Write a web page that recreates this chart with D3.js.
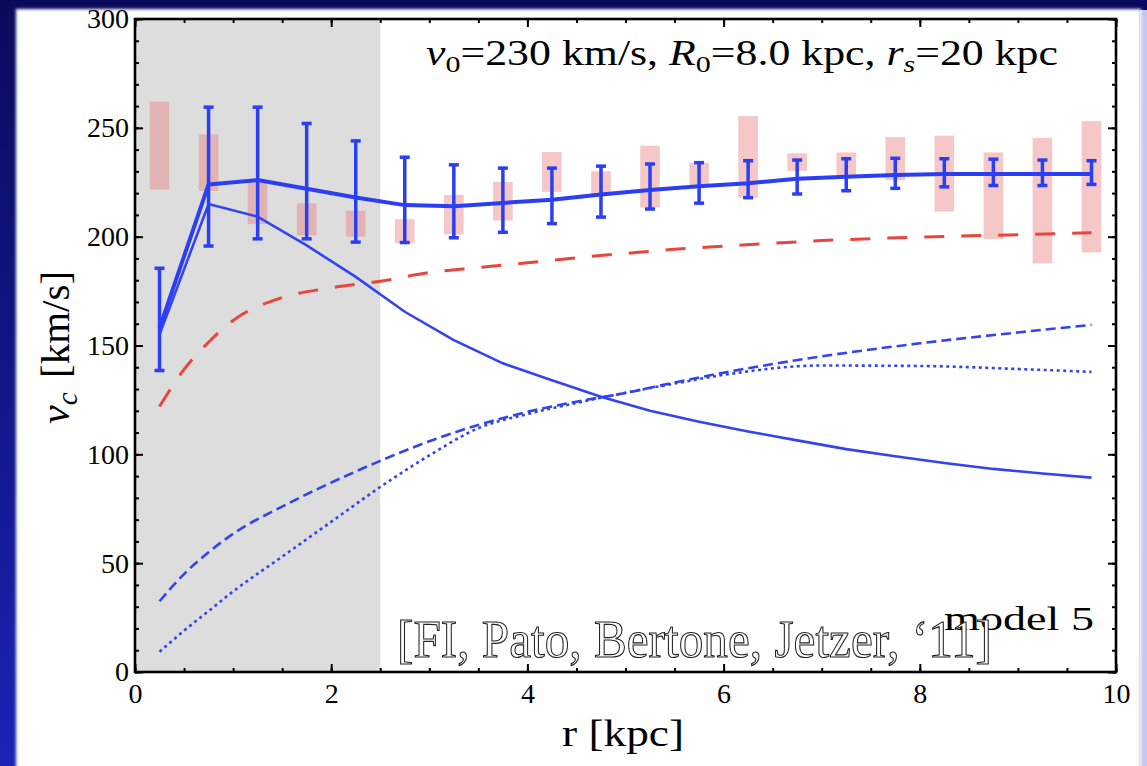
<!DOCTYPE html>
<html><head><meta charset="utf-8">
<script src="https://cdn.jsdelivr.net/npm/d3@7"></script>
<style>body{margin:0;background:#fff}svg{display:block}</style>
</head><body>
<script>
// ---- data ----
const radii   = [0.25,0.75,1.25,1.75,2.25,2.75,3.25,3.75,4.25,4.75,5.25,5.75,6.25,6.75,7.25,7.75,8.25,8.75,9.25,9.75];
const total   = [158,224,226,222,218,214.5,214,215.5,217,219.4,221.4,223.2,224.5,226.6,227.5,228.3,228.8,228.8,228.8,228.8];
const errLow  = [138.5,195.7,199,199,197.5,197.3,199.5,202,206,209,212.7,215.4,217.9,219.6,221.1,222.2,222.9,223.5,223.5,224];
const errHigh = [185.5,259.5,259.5,252,244,236.5,233,231.5,231.5,232.4,233.4,234,234.9,235.2,235.8,236,235.8,235.6,235.2,234.9];
const obsLow  = [221.7,221,205.8,200.6,200,196.9,201,207.4,220.6,218.6,213.4,223.8,217.9,230.2,227,226,211.5,198.9,187.7,192.8];
const obsHigh = [262,247,225.2,215.3,211.9,208,219.2,225.2,238.9,230,241.8,234,255.4,238.3,238.7,245.8,246.4,238.7,245.4,253.1];
const bulge   = [155,215,209.2,196,181.5,165.5,152.5,141.8,134,126.5,120,115,110.5,106.4,102.4,99.1,96,93.3,91.2,89.3];

const rCurve  = [0.25,0.5,0.75,1,1.5,2,2.5,3,3.5,4,4.5,5,5.5,6,7,8,9,9.75];
const halo    = [32.5,45,55,63.5,76,87,97,106,113.5,119.5,124.2,128.2,133,137.5,145,151,156,159.5];
const disk    = [9.3,19,28,37,53,69,85,99.5,112,118.5,123.6,128.3,132.5,136.5,140.8,140.6,139.2,137.9];
const redCurve= [122,139,151.5,161.5,172,176.5,179.5,183.5,185.8,188,190.3,192.3,194.2,195.6,198.2,199.8,200.9,201.8];

const xMajor = [0,2,4,6,8,10];
const yMajor = [0,50,100,150,200,250,300];
const shadeMax = 2.5;

// ---- canvas ----
const W = 1147, H = 766;
const svg = d3.select("body").append("svg").attr("width", W).attr("height", H);
const defs = svg.append("defs");
const bg = defs.append("linearGradient").attr("id","bg").attr("x1",0).attr("y1",0).attr("x2",0).attr("y2",1);
bg.append("stop").attr("offset",0).attr("stop-color","#0a0a5c");
bg.append("stop").attr("offset",1).attr("stop-color","#1c22b4");
defs.append("filter").attr("id","blur").append("feGaussianBlur").attr("stdDeviation",1.6);

svg.append("rect").attr("width",W).attr("height",H).attr("fill","url(#bg)");
svg.append("rect").attr("x",1140).attr("y",10).attr("width",7).attr("height",H).attr("fill","#c4c8ee");
svg.append("rect").attr("x",16).attr("y",9).attr("width",1125).attr("height",H+10)
   .attr("fill","#ffffff").attr("filter","url(#blur)");

const m = {l:135, r:1116, t:19, b:672};
const x = d3.scaleLinear().domain([0,10]).range([m.l, m.r]);
const y = d3.scaleLinear().domain([0,300]).range([m.b, m.t]);

// shaded region
svg.append("rect").attr("x", x(0)).attr("y", m.t)
   .attr("width", x(shadeMax)-x(0)).attr("height", m.b-m.t).attr("fill","#dddddd");

// observed boxes
svg.append("g").selectAll("rect").data(radii).join("rect")
  .attr("x", d => x(d-0.1)).attr("width", d => x(d+0.1)-x(d-0.1))
  .attr("y", (d,i) => y(obsHigh[i])).attr("height", (d,i) => y(obsLow[i]) - y(obsHigh[i]))
  .attr("fill","#e87a7a").attr("fill-opacity",0.42);

const lineC = d3.line().x(d => x(d[0])).y(d => y(d[1])).curve(d3.curveMonotoneX);
const lineL = d3.line().x(d => x(d[0])).y(d => y(d[1]));

svg.append("path").attr("d", lineC(rCurve.map((r,i)=>[r,redCurve[i]])))
  .attr("fill","none").attr("stroke","#e8453c").attr("stroke-width",3).attr("stroke-dasharray","20,17");
svg.append("path").attr("d", lineC(rCurve.map((r,i)=>[r,halo[i]])))
  .attr("fill","none").attr("stroke","#3344ee").attr("stroke-width",2.6).attr("stroke-dasharray","10,5");
svg.append("path").attr("d", lineC(rCurve.map((r,i)=>[r,disk[i]])))
  .attr("fill","none").attr("stroke","#3344ee").attr("stroke-width",2.6).attr("stroke-dasharray","3,3.5");
svg.append("path").attr("d", lineL(radii.map((r,i)=>[r,bulge[i]])))
  .attr("fill","none").attr("stroke","#3344ee").attr("stroke-width",2.6);
svg.append("path").attr("d", lineL(radii.map((r,i)=>[r,total[i]])))
  .attr("fill","none").attr("stroke","#2a3ff5").attr("stroke-width",4).attr("stroke-linejoin","round");

// error bars
const eb = svg.append("g").attr("stroke","#2a3ff5").attr("stroke-width",3.5);
eb.selectAll("line.v").data(radii).join("line").attr("class","v")
  .attr("x1", d=>x(d)).attr("x2", d=>x(d))
  .attr("y1",(d,i)=>y(errLow[i])).attr("y2",(d,i)=>y(errHigh[i]));
eb.selectAll("line.lo").data(radii).join("line").attr("class","lo")
  .attr("x1", d=>x(d)-5).attr("x2", d=>x(d)+5)
  .attr("y1",(d,i)=>y(errLow[i])).attr("y2",(d,i)=>y(errLow[i]));
eb.selectAll("line.hi").data(radii).join("line").attr("class","hi")
  .attr("x1", d=>x(d)-5).attr("x2", d=>x(d)+5)
  .attr("y1",(d,i)=>y(errHigh[i])).attr("y2",(d,i)=>y(errHigh[i]));

// axes
const font = "'Liberation Serif', 'Times New Roman', serif";
function style(g){
  g.select(".domain").remove();
  g.selectAll(".tick line").attr("stroke","#000").attr("stroke-width",2);
  g.selectAll(".tick text").attr("font-family",font).attr("font-size",28).attr("fill","#000");
}
const xMinor = d3.range(0,10.001,0.5);
const yMinor = d3.range(0,300.001,10);
svg.append("g").attr("transform",`translate(0,${m.b})`)
  .call(d3.axisBottom(x).tickValues(xMinor).tickSize(-4).tickFormat("")).call(style);
svg.append("g").attr("transform",`translate(0,${m.b})`)
  .call(d3.axisBottom(x).tickValues(xMajor).tickSize(-8).tickPadding(11).tickFormat(d3.format("d"))).call(style);
svg.append("g").attr("transform",`translate(0,${m.t})`)
  .call(d3.axisTop(x).tickValues(xMinor).tickSize(-4).tickFormat("")).call(style);
svg.append("g").attr("transform",`translate(0,${m.t})`)
  .call(d3.axisTop(x).tickValues(xMajor).tickSize(-8).tickFormat("")).call(style);
svg.append("g").attr("transform",`translate(${m.l},0)`)
  .call(d3.axisLeft(y).tickValues(yMinor).tickSize(-4).tickFormat("")).call(style);
svg.append("g").attr("transform",`translate(${m.l},0)`)
  .call(d3.axisLeft(y).tickValues(yMajor).tickSize(-8).tickPadding(6).tickFormat(d3.format("d"))).call(style);
svg.append("g").attr("transform",`translate(${m.r},0)`)
  .call(d3.axisRight(y).tickValues(yMinor).tickSize(-4).tickFormat("")).call(style);
svg.append("g").attr("transform",`translate(${m.r},0)`)
  .call(d3.axisRight(y).tickValues(yMajor).tickSize(-8).tickFormat("")).call(style);

svg.append("rect").attr("x",m.l).attr("y",m.t).attr("width",m.r-m.l).attr("height",m.b-m.t)
  .attr("fill","none").attr("stroke","#000").attr("stroke-width",2.6);

// annotation
const ann = svg.append("text").attr("x",426).attr("y",65).attr("font-family",font).attr("font-size",35)
  .attr("fill","#000").attr("textLength",632).attr("lengthAdjust","spacingAndGlyphs");
ann.append("tspan").attr("font-style","italic").text("v");
ann.append("tspan").attr("font-size",24).attr("dy",7).text("0");
ann.append("tspan").attr("dy",-7).text("=230 km/s, ");
ann.append("tspan").attr("font-style","italic").text("R");
ann.append("tspan").attr("font-size",24).attr("dy",7).text("0");
ann.append("tspan").attr("dy",-7).text("=8.0 kpc, ");
ann.append("tspan").attr("font-style","italic").text("r");
ann.append("tspan").attr("font-size",24).attr("font-style","italic").attr("dy",7).text("s");
ann.append("tspan").attr("dy",-7).text("=20 kpc");

// model label and citation
svg.append("text").attr("x",944).attr("y",630).attr("font-family",font).attr("font-size",34)
  .attr("fill","#000").attr("textLength",150).attr("lengthAdjust","spacingAndGlyphs").text("model 5");
svg.append("text").attr("x",397).attr("y",657).attr("font-family",font).attr("font-size",52)
  .attr("fill","#ffffff").attr("stroke","#222").attr("stroke-width",1.1)
  .attr("textLength",595).attr("lengthAdjust","spacingAndGlyphs")
  .text("[FI, Pato, Bertone, Jetzer, \u201811]");

// axis titles
svg.append("text").attr("x",623).attr("y",746).attr("text-anchor","middle")
  .attr("font-family",font).attr("font-size",38).attr("fill","#000")
  .attr("textLength",122).attr("lengthAdjust","spacingAndGlyphs").text("r [kpc]");
const yl = svg.append("text").attr("transform","translate(69,424) rotate(-90)")
  .attr("font-family",font).attr("font-size",42).attr("fill","#000");
yl.append("tspan").attr("font-style","italic").text("v");
yl.append("tspan").attr("font-style","italic").attr("font-size",29).attr("dy",8).text("c");
svg.append("text").attr("transform","translate(69,378) rotate(-90)")
  .attr("font-family",font).attr("font-size",41).attr("fill","#000").text("[km/s]");
</script>
</body></html>
